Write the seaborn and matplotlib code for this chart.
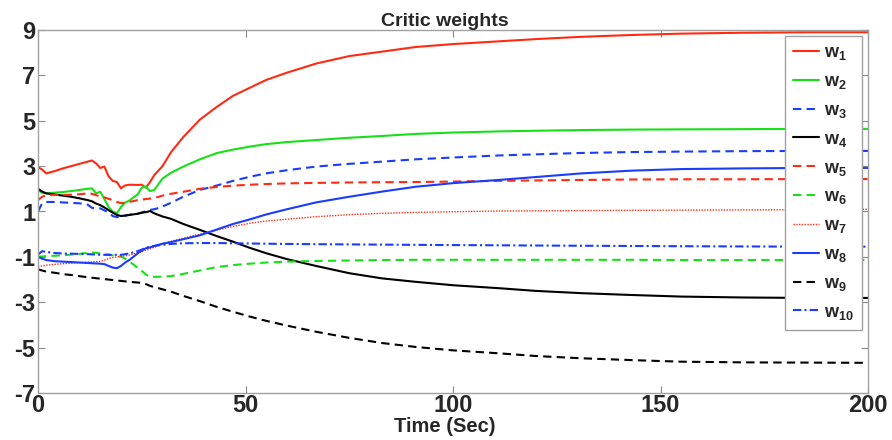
import matplotlib
matplotlib.use("Agg")
import matplotlib.pyplot as plt
import seaborn as sns
import pandas as pd

# ---- data ----
time_s = [0, 1, 2, 4, 6, 8, 10, 12, 13, 14, 15, 16, 17, 18, 19, 20, 21, 22, 24, 25, 26, 27, 28, 29,
          30, 32, 35, 39, 43, 47, 51, 55, 60, 67, 75, 83, 91, 100, 111, 120, 131, 143, 155, 170, 185, 200]

w1 = [2.95, 2.85, 2.68, 2.78, 2.9, 3.0, 3.1, 3.2, 3.25, 3.12, 2.92, 2.98, 2.55, 2.35, 2.3, 2.02, 2.15, 2.18,
      2.17, 2.18, 2.05, 2.3, 2.6, 2.8, 3.0, 3.6, 4.28, 5.05, 5.6, 6.1, 6.45, 6.8, 7.12, 7.52, 7.85, 8.05,
      8.25, 8.38, 8.5, 8.6, 8.7, 8.78, 8.84, 8.88, 8.9, 8.9]
w2 = [1.95, 1.82, 1.8, 1.83, 1.86, 1.9, 1.95, 2.0, 2.02, 1.8, 1.87, 1.55, 1.2, 1.0, 0.92, 1.2, 1.4, 1.48,
      1.75, 2.05, 2.1, 1.9, 1.95, 2.2, 2.45, 2.7, 2.98, 3.3, 3.57, 3.73, 3.86, 3.97, 4.06, 4.15, 4.25, 4.33,
      4.42, 4.48, 4.53, 4.56, 4.59, 4.61, 4.62, 4.63, 4.64, 4.64]
w3 = [1.0, 1.36, 1.42, 1.42, 1.4, 1.38, 1.36, 1.3, 1.16, 1.14, 1.14, 1.05, 0.95, 0.8, 0.75, 0.78, 0.82, 0.85,
      0.9, 0.95, 1.02, 1.07, 1.1, 1.15, 1.22, 1.38, 1.65, 1.95, 2.14, 2.35, 2.53, 2.68, 2.82, 2.98, 3.1, 3.2,
      3.3, 3.38, 3.47, 3.52, 3.58, 3.62, 3.64, 3.66, 3.67, 3.67]
w4 = [2.0, 1.88, 1.8, 1.75, 1.7, 1.65, 1.58, 1.5, 1.45, 1.35, 1.28, 1.18, 1.06, 0.95, 0.85, 0.8, 0.82, 0.85,
      0.9, 0.95, 0.97, 1.02, 0.92, 0.85, 0.78, 0.68, 0.45, 0.19, -0.08, -0.33, -0.6, -0.84, -1.1, -1.4, -1.72,
      -1.95, -2.1, -2.25, -2.38, -2.5, -2.6, -2.68, -2.75, -2.79, -2.81, -2.81]
w5 = [1.5, 1.65, 1.72, 1.73, 1.73, 1.74, 1.76, 1.8, 1.78, 1.72, 1.66, 1.62, 1.56, 1.5, 1.42, 1.37, 1.38, 1.42,
      1.5, 1.52, 1.55, 1.57, 1.6, 1.64, 1.7, 1.78, 1.87, 2.0, 2.08, 2.14, 2.18, 2.21, 2.24, 2.26, 2.28, 2.29,
      2.3, 2.32, 2.35, 2.37, 2.39, 2.41, 2.42, 2.42, 2.43, 2.43]
w6 = [-1.0, -0.98, -0.97, -0.95, -0.93, -0.9, -0.87, -0.82, -0.81, -0.82, -0.85, -0.88, -0.9, -0.93, -0.96,
      -0.99, -1.08, -1.2, -1.48, -1.62, -1.78, -1.87, -1.88, -1.88, -1.87, -1.85, -1.75, -1.6, -1.45, -1.36,
      -1.3, -1.25, -1.21, -1.18, -1.16, -1.14, -1.13, -1.13, -1.13, -1.13, -1.13, -1.13, -1.14, -1.14, -1.14, -1.14]
w7 = [-1.43, -1.4, -1.37, -1.33, -1.3, -1.28, -1.25, -1.23, -1.22, -1.21, -1.2, -1.15, -1.07, -1.03, -1.0,
      -0.98, -0.95, -0.92, -0.82, -0.78, -0.7, -0.65, -0.58, -0.5, -0.42, -0.32, -0.18, 0.0, 0.18, 0.34, 0.48,
      0.58, 0.66, 0.77, 0.86, 0.92, 0.96, 0.99, 1.02, 1.03, 1.04, 1.05, 1.06, 1.07, 1.08, 1.1]
w8 = [-1.0, -1.08, -1.14, -1.19, -1.21, -1.23, -1.25, -1.27, -1.28, -1.29, -1.3, -1.32, -1.4, -1.47, -1.5,
      -1.4, -1.25, -1.14, -0.85, -0.72, -0.62, -0.58, -0.52, -0.47, -0.42, -0.35, -0.22, -0.05, 0.2, 0.45,
      0.65, 0.87, 1.1, 1.4, 1.65, 1.88, 2.09, 2.25, 2.39, 2.52, 2.68, 2.8, 2.87, 2.9, 2.92, 2.92]
w9 = [-1.55, -1.6, -1.65, -1.7, -1.76, -1.8, -1.85, -1.9, -1.92, -1.94, -1.96, -1.98, -2.0, -2.02, -2.04,
      -2.06, -2.08, -2.1, -2.13, -2.15, -2.2, -2.28, -2.33, -2.38, -2.43, -2.53, -2.72, -2.95, -3.2, -3.42,
      -3.63, -3.82, -4.03, -4.3, -4.57, -4.8, -4.97, -5.12, -5.25, -5.37, -5.47, -5.55, -5.62, -5.65, -5.66, -5.67]
w10 = [-0.9, -0.75, -0.78, -0.83, -0.85, -0.86, -0.87, -0.88, -0.89, -0.9, -0.91, -0.91, -0.91, -0.91, -0.91,
       -0.91, -0.88, -0.85, -0.75, -0.68, -0.6, -0.55, -0.52, -0.49, -0.47, -0.43, -0.4, -0.39, -0.39, -0.4,
       -0.41, -0.42, -0.43, -0.44, -0.45, -0.46, -0.47, -0.48, -0.49, -0.5, -0.51, -0.52, -0.53, -0.54, -0.55, -0.55]

series_names = ["w1", "w2", "w3", "w4", "w5", "w6", "w7", "w8", "w9", "w10"]
series_values = [w1, w2, w3, w4, w5, w6, w7, w8, w9, w10]
legend_labels = [r"$\mathbf{w_{%d}}$" % i for i in range(1, 11)]
x_ticks = [0, 50, 100, 150, 200]
y_ticks = [-7, -5, -3, -1, 1, 3, 5, 7, 9]

# ---- styles ----
RED, GREEN, BLUE, BLACK = "#ff2a12", "#18e018", "#1a3cff", "#000000"
colors = [RED, GREEN, BLUE, BLACK, RED, GREEN, RED, BLUE, BLACK, BLUE]
styles = ["-", "-", (0, (4, 2.5)), "-", (0, (4, 2.5)), (0, (4, 2.5)), (0, (1, 1)), "-", (0, (4, 2.5)),
          (0, (4, 1.5, 1, 1.5))]
widths = [1.5, 1.5, 1.5, 1.5, 1.5, 1.5, 1.0, 1.5, 1.5, 1.5]

sns.set_style("ticks")
plt.rcParams["font.family"] = ["Liberation Sans", "DejaVu Sans"]
plt.rcParams["mathtext.fontset"] = "custom"
plt.rcParams["mathtext.bf"] = "Liberation Sans:bold"
plt.rcParams["mathtext.rm"] = "Liberation Sans"
plt.rcParams["mathtext.it"] = "Liberation Sans:italic"

fig = plt.figure(figsize=(8.92, 4.40), dpi=100)
ax = fig.add_axes([38 / 892, 47 / 440, 830 / 892, 363 / 440])

df = pd.DataFrame({"time": time_s})
for name, vals in zip(series_names, series_values):
    df[name] = vals

for name, lab, c, ls, lw in zip(series_names, legend_labels, colors, styles, widths):
    sns.lineplot(data=df, x="time", y=name, ax=ax, color=c, linestyle=ls, linewidth=lw, label=lab)

ax.set_xlim(0, 200)
ax.set_ylim(-7, 9)
ax.set_xticks(x_ticks)
ax.set_yticks(y_ticks)
ax.set_xticklabels([str(v) for v in x_ticks], fontsize=17, fontweight="bold")
ax.set_yticklabels([str(v) for v in y_ticks], fontsize=17, fontweight="bold")
ax.tick_params(direction="in", length=5, width=0.8, color="#888888", top=True, right=True, pad=2)
ax.tick_params(axis="x", pad=1)
for sp in ax.spines.values():
    sp.set_visible(True)
    sp.set_color("#a0a0a0")
    sp.set_linewidth(1.0)

ax.set_title("Critic weights", fontsize=14, fontweight="bold", pad=3, x=0.49)
ax.set_xlabel("Time (Sec)", fontsize=14.5, fontweight="bold", labelpad=0, x=0.49)
ax.set_ylabel("")

leg = ax.legend(loc="upper right", bbox_to_anchor=(0.993, 0.983), borderaxespad=0, fontsize=13,
                frameon=True, fancybox=False, framealpha=1, edgecolor="#a0a0a0",
                handlelength=1.45, handletextpad=0.3, labelspacing=0.6, borderpad=0.45)
leg.get_frame().set_linewidth(1.0)

fig.savefig("out.png", dpi=100)
